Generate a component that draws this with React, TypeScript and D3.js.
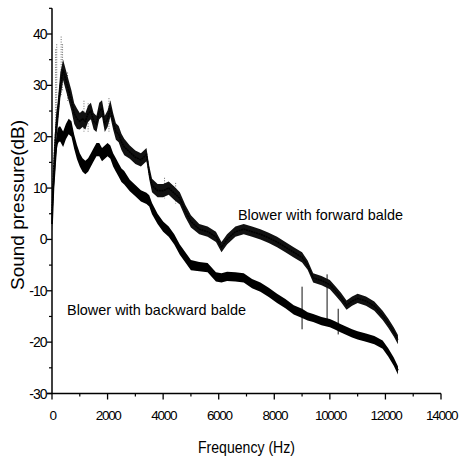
import React from 'react';
import * as d3 from 'd3';

// frequency grid (Hz) shared by both spectra
const freq = [0, 50, 100, 150, 200, 250, 300, 400, 500, 600, 700, 800, 900, 1000,
  1100, 1200, 1300, 1400, 1500, 1600, 1700, 1800, 1900, 2000, 2100, 2200, 2300, 2400, 2500, 2600,
  2800, 3000, 3200, 3400, 3500, 3600, 3800, 4000, 4200, 4400, 4600, 4800, 5000,
  5300, 5600, 5900, 6100, 6300, 6600, 6900, 7200, 7500, 7800, 8100, 8400, 8700, 9000,
  9200, 9400, 9700, 10000, 10200, 10400, 10600, 10800, 11000, 11300, 11600, 11900, 12100, 12300, 12450];

// Blower with forward balde (dB)
const forward = [5, 12, 18, 22, 24, 27, 30, 33, 31, 29, 27, 24.5, 23.5, 23,
  23.5, 23, 24.5, 25, 23, 22.5, 25, 25.5, 22.5, 23.5, 25.5, 23, 21, 20.5, 19, 18,
  17, 16, 15.5, 16.5, 13, 10.5, 9.5, 9.5, 10, 9, 8, 5.5, 3.5,
  2, 1.5, 0.5, -1.5, 0, 1.5, 2, 1.5, 1, 0.3, -0.5, -1.5, -2.5, -3.5,
  -5, -7.5, -8, -8.8, -10, -11.3, -12.8, -12, -11.5, -12, -13, -14.8, -16.3, -18, -19.5];
const forwardSpread = [2.5, 2.5, 2.5, 2.5, 2.5, 2.5, 2.5, 2, 2, 2, 2, 2, 2, 1.6,
  1.6, 1.6, 1.6, 1.6, 1.6, 1.6, 1.6, 1.6, 1.6, 1.6, 1.6, 1.6, 1.6, 1.6, 1.6, 1.6,
  1.3, 1.3, 1.3, 1.3, 1.3, 1.3, 1.3, 1.3, 1.3, 1.3, 1.2, 1.2, 1.2,
  1, 1, 1, 1, 1, 1, 1, 1, 1, 1, 1, 1, 1, 1,
  0.9, 0.9, 0.9, 0.9, 0.9, 0.9, 0.9, 0.9, 0.9, 0.9, 0.9, 0.9, 0.9, 0.9, 0.9];

// Blower with backward balde (dB)
const backward = [3, 10, 14, 18, 20, 20.5, 20.5, 19.5, 21, 22, 21.5, 19, 17, 15.5,
  14.5, 14, 14.5, 15.5, 16.5, 17.5, 17.5, 16.5, 17, 17.5, 17, 15.5, 14.5, 13.5, 12.5, 12,
  10.5, 9.5, 8.5, 8, 7.5, 6, 4, 2.5, 1.5, 0, -2, -3.5, -5,
  -5.3, -5.5, -7.3, -7.5, -7.2, -7.3, -7.5, -8.6, -9.3, -10.3, -11.5, -12.5, -13.7, -14.4,
  -15, -15.3, -15.9, -16.3, -16.8, -17.3, -17.8, -18.3, -18.7, -19.1, -19.6, -20.5, -22, -23.8, -25.5];
const backwardSpread = [1.5, 1.5, 1.5, 1.5, 1.5, 1.5, 1.5, 1.5, 1.5, 1.5, 1.5, 1.4, 1.4, 1.3,
  1.3, 1.3, 1.3, 1.3, 1.3, 1.3, 1.3, 1.3, 1.3, 1.3, 1.3, 1.3, 1.3, 1.3, 1.3, 1.3,
  1.1, 1.1, 1.1, 1.1, 1.1, 1.1, 1, 1, 1, 1, 1, 1, 1,
  0.9, 0.9, 0.9, 0.9, 0.9, 0.9, 0.9, 0.9, 0.9, 0.9, 0.9, 0.9, 0.9, 0.9,
  0.8, 0.8, 0.8, 0.8, 0.8, 0.8, 0.8, 0.8, 0.8, 0.8, 0.8, 0.8, 0.8, 0.8, 0.8];

// dotted noise spikes of the forward spectrum: [Hz, top dB, bottom dB]
const forwardSpikes = [[130, 37, 20], [170, 38, 22], [330, 39.5, 28], [380, 38, 29], [560, 32.5, 27],
  [1150, 27, 21], [1300, 26.5, 21], [2050, 27.5, 21], [4050, 12, 8], [4450, 11, 7]];
// thin vertical spikes near 9-10 kHz
const thinSpikes = [[9000, -9.2, -17.5], [9900, -6.8, -15.8], [10300, -13.5, -18.5]];

const xTicks = [0, 2000, 4000, 6000, 8000, 10000, 12000, 14000];
const xMinor = [1000, 3000, 5000, 7000, 9000, 11000, 13000];
const yTicks = [-30, -20, -10, 0, 10, 20, 30, 40];
const yMinor = [-25, -15, -5, 5, 15, 25, 35, 45];

const font = '"Liberation Sans", Arial, sans-serif';

export default function App() {
  const x = d3.scaleLinear().domain([0, 14000]).range([52, 441]);
  const y = d3.scaleLinear().domain([-30, 40]).range([393.5, 34]);
  const yTop = y(45);

  const band = (vals: number[], spread: number[]) =>
    d3.area<number>()
      .x((_, i) => x(freq[i]))
      .y0((v, i) => y(v - spread[i]))
      .y1((v, i) => y(v + spread[i]))(vals) || '';
  const line = (vals: number[]) =>
    d3.line<number>().x((_, i) => x(freq[i])).y(v => y(v))(vals) || '';

  const axisY = y(-30);

  return (
    <svg width={459} height={458} style={{ position: 'absolute', left: 0, top: 0, background: '#fff' }}
      fontFamily={font}>
      {/* forward spikes (dotted) */}
      {forwardSpikes.map(([f, hi, lo], i) => (
        <line key={'fs' + i} x1={x(f)} x2={x(f)} y1={y(hi)} y2={y(lo)}
          stroke="#444" strokeWidth={0.8} strokeDasharray="1,1.5" />
      ))}
      {thinSpikes.map(([f, hi, lo], i) => (
        <line key={'ts' + i} x1={x(f)} x2={x(f)} y1={y(hi)} y2={y(lo)}
          stroke="#111" strokeWidth={1} />
      ))}
      {/* spectra */}
      <path d={band(forward, forwardSpread)} fill="#111" />
      <path d={line(forward)} fill="none" stroke="#000" strokeWidth={1.6} strokeDasharray="2,0.6" />
      <path d={band(backward, backwardSpread)} fill="#000" />
      <path d={line(backward)} fill="none" stroke="#000" strokeWidth={1.8} />

      {/* axes */}
      <line x1={x(0)} x2={x(0)} y1={yTop} y2={axisY} stroke="#000" strokeWidth={1.5} />
      <line x1={x(0) - 5} x2={x(14000)} y1={axisY} y2={axisY} stroke="#000" strokeWidth={1.5} />
      {yTicks.map(t => (
        <g key={'yt' + t}>
          <line x1={x(0) - 5} x2={x(0)} y1={y(t)} y2={y(t)} stroke="#000" strokeWidth={1.3} />
          <text x={46.5} y={y(t) + 5} textAnchor="end" fontSize={14}
            letterSpacing={-1}>{t}</text>
        </g>
      ))}
      {yMinor.map(t => (
        <line key={'ym' + t} x1={x(0) - 3} x2={x(0)} y1={y(t)} y2={y(t)} stroke="#000" strokeWidth={1.2} />
      ))}
      {xTicks.map(t => (
        <g key={'xt' + t}>
          <line x1={x(t)} x2={x(t)} y1={axisY} y2={axisY + 6} stroke="#000" strokeWidth={1.3} />
          <text x={x(t) + 0.6} y={420} textAnchor="middle" fontSize={13.5}
            letterSpacing={-1.3}>{t}</text>
        </g>
      ))}
      {xMinor.map(t => (
        <line key={'xm' + t} x1={x(t)} x2={x(t)} y1={axisY} y2={axisY + 3} stroke="#000" strokeWidth={1.2} />
      ))}

      {/* axis titles */}
      <text x={198} y={453} fontSize={17} textLength={97} lengthAdjust="spacingAndGlyphs">Frequency (Hz)</text>
      <text transform="translate(24,205) rotate(-90)" textAnchor="middle" fontSize={19}>Sound pressure(dB)</text>

      {/* series annotations */}
      <text x={238} y={220} fontSize={15} textLength={165} lengthAdjust="spacingAndGlyphs">Blower with forward balde</text>
      <text x={67} y={315} fontSize={15} textLength={179} lengthAdjust="spacingAndGlyphs">Blower with backward balde</text>
    </svg>
  );
}
